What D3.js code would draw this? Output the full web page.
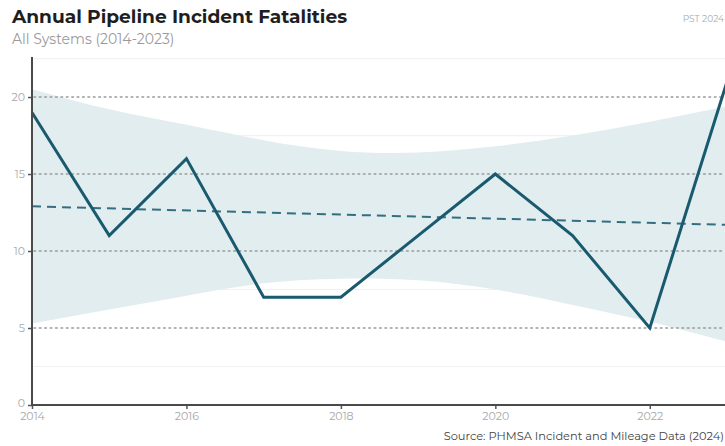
<!DOCTYPE html>
<html><head><meta charset="utf-8">
<script src="https://cdn.jsdelivr.net/npm/d3@7/dist/d3.min.js"></script>
<style>html,body{margin:0;padding:0;background:#fff;overflow:hidden}svg{display:block}</style>
</head><body>
<svg id="c" width="725" height="446"></svg>
<script>
const years = [2014,2015,2016,2017,2018,2019,2020,2021,2022,2023];
const fatalities = [19,11,16,7,7,11,15,11,5,21];
const bandUpper = [20.5,19.2,18.2,17.2,16.5,16.4,16.8,17.5,18.4,19.4];
const bandLower = [5.3,6.2,7.1,7.9,8.2,8.1,7.5,6.5,5.4,4.1];
const trendYears = [2014,2023];
const trendValues = [12.9,11.7];
const yTicks = [0,5,10,15,20];
const yMinorTicks = [2.5,7.5,12.5,17.5,22.5];
const xTicks = [2014,2016,2018,2020,2022];
const title = "Annual Pipeline Incident Fatalities";
const subtitle = "All Systems (2014-2023)";
const stamp = "PST 2024";
const source = "Source: PHMSA Incident and Mileage Data (2024)";

const svg = d3.select("#c");
const font = "Montserrat, 'Open Sans', 'Noto Sans', sans-serif";
const x = d3.scaleLinear().domain([2014,2023]).range([32,727]);
const y = d3.scaleLinear().domain([0,22.6]).range([405,57]);

const rows = years.map((yr,i)=>({yr, v:fatalities[i], hi:bandUpper[i], lo:bandLower[i]}));

// minor faint gridlines
svg.append("g").selectAll("line").data(yMinorTicks).join("line")
  .attr("x1",34).attr("x2",725).attr("y1",d=>y(d)).attr("y2",d=>y(d))
  .attr("stroke","#f1f1f1").attr("stroke-width",1.2);

// band
svg.append("path").datum(rows)
  .attr("d", d3.area().x(d=>x(d.yr)).y0(d=>y(d.lo)).y1(d=>y(d.hi)).curve(d3.curveNatural))
  .attr("fill","#e2edf0");

// major dotted gridlines
svg.append("g").selectAll("line").data(yTicks.filter(d=>d>0)).join("line")
  .attr("x1",34).attr("x2",725).attr("y1",d=>y(d)).attr("y2",d=>y(d))
  .attr("stroke","#9a9a9a").attr("stroke-width",1.6).attr("stroke-dasharray","1.6,3.8").attr("stroke-linecap","round");

// trend
svg.append("path").datum(trendYears.map((yr,i)=>({yr, v:trendValues[i]})))
  .attr("d", d3.line().x(d=>x(d.yr)).y(d=>y(d.v)))
  .attr("fill","none").attr("stroke","#336f80").attr("stroke-width",2).attr("stroke-dasharray","9,6");

// line
svg.append("path").datum(rows)
  .attr("d", d3.line().x(d=>x(d.yr)).y(d=>y(d.v)))
  .attr("fill","none").attr("stroke","#195a6e").attr("stroke-width",3).attr("stroke-linejoin","miter");

// axes
const yAxis = svg.append("g").attr("transform","translate(32,0)")
  .call(d3.axisLeft(y).tickValues(yTicks).tickSize(4).tickPadding(3));
yAxis.select(".domain").remove();
yAxis.selectAll(".tick line").attr("stroke","#555").attr("stroke-width",1.5);
yAxis.selectAll(".tick text").attr("fill","#a8a8a8").style("font-family",font).style("font-size","11px");
yAxis.selectAll(".tick").filter(d=>d===0).select("text").attr("dy","0.1em");
svg.append("line").attr("x1",32).attr("x2",32).attr("y1",57).attr("y2",406)
  .attr("stroke","#4a4a4a").attr("stroke-width",2);

const xAxis = svg.append("g").attr("transform","translate(0,405)")
  .call(d3.axisBottom(x).tickValues(xTicks).tickFormat(d3.format("d")).tickSize(4).tickPadding(3));
xAxis.select(".domain").remove();
xAxis.selectAll(".tick line").attr("stroke","#555").attr("stroke-width",1.5);
xAxis.selectAll(".tick text").attr("fill","#a8a8a8").style("font-family",font).style("font-size","11px");
svg.append("line").attr("x1",31).attr("x2",725).attr("y1",405).attr("y2",405)
  .attr("stroke","#4a4a4a").attr("stroke-width",2);

// texts
svg.append("text").attr("x",12).attr("y",23).text(title)
  .style("font-family",font).style("font-weight","700").style("font-size","18.6px").attr("fill","#1e1e1e");
svg.append("text").attr("x",12).attr("y",44).text(subtitle)
  .style("font-family",font).style("font-size","14px").attr("fill","#9a9a9a");
svg.append("text").attr("x",724).attr("y",22).attr("text-anchor","end").text(stamp)
  .style("font-family",font).style("font-size","9px").attr("fill","#aaa");
svg.append("text").attr("x",724).attr("y",440).attr("text-anchor","end").text(source)
  .style("font-family",font).style("font-size","11.4px").attr("fill","#444");
</script>
</body></html>
